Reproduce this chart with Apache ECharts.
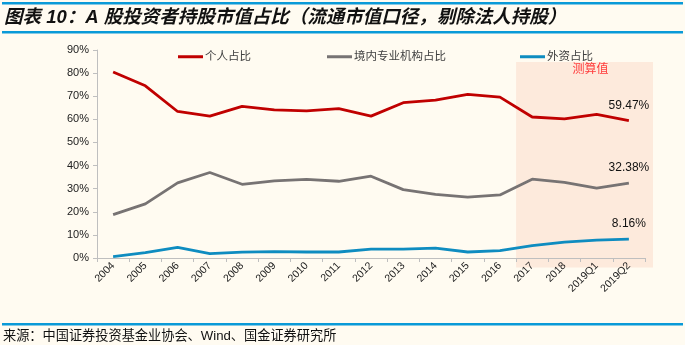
<!DOCTYPE html>
<html>
<head>
<meta charset="utf-8">
<script src="https://cdn.jsdelivr.net/npm/echarts@6/dist/echarts.min.js"></script>
<style>
html,body{margin:0;padding:0;background:#FFFBF1;}
#c{width:685px;height:345px;}
</style>
</head>
<body>
<div id="c"></div>
<script>
const categories = ['2004','2005','2006','2007','2008','2009','2010','2011','2012','2013','2014','2015','2016','2017','2018','2019Q1','2019Q2'];
const individual = [80.5,74.5,63.4,61.4,65.6,64.1,63.7,64.6,61.4,67.2,68.3,70.8,69.6,61.0,60.2,62.1,59.47];
const domestic = [18.8,23.4,32.5,37.0,31.9,33.4,34.0,33.2,35.4,29.6,27.5,26.3,27.3,34.1,32.7,30.2,32.38];
const foreign = [0.6,2.3,4.6,1.9,2.5,2.8,2.6,2.6,3.8,3.8,4.3,2.6,3.2,5.4,6.9,7.7,8.16];
const seriesNames = ['个人占比','境内专业机构占比','外资占比'];
const estimateStart = '2017';
const titleText = '图表 10：A 股投资者持股市值占比（流通市值口径，剔除法人持股）';
const sourceText = '来源：中国证券投资基金业协会、Wind、国金证券研究所';

const colors = ['#C00000','#777373','#0E8CC0'];
const cjk = '"Liberation Sans","Noto Sans CJK SC",sans-serif';

function withLastLabel(arr){
  return arr.map((v,i)=> i===arr.length-1 ? {value:v,label:{show:true}} : v);
}
function mkSeries(name, arr, color){
  return {
    name:name, type:'line', data:withLastLabel(arr), symbol:'circle', symbolSize:0.01, showSymbol:true,
    lineStyle:{width:2.8,color:color}, itemStyle:{color:color}, z:3,
    label:{show:false, position:'top', distance:9, color:'#111', fontSize:12,
      fontFamily:cjk, formatter:p=>p.value.toFixed(2)+'%'}
  };
}
const chart = echarts.init(document.getElementById('c'));
const gridL=97, gridR=40, gridT=50, gridB=87;
function legend(name,left){
  return {data:[name], left:left, top:46, itemWidth:25, itemHeight:3, itemGap:2,
    icon:'rect', textStyle:{fontSize:11.5,color:'#404040',fontFamily:cjk,padding:[0,0,0,-3]}};
}
chart.setOption({
  backgroundColor:'#FFFBF1',
  animation:false,
  grid:{left:gridL,right:gridR,top:gridT,bottom:gridB},
  legend:[legend(seriesNames[0],173),legend(seriesNames[1],322),legend(seriesNames[2],515)],
  xAxis:{type:'category',data:categories,boundaryGap:true,
    axisLine:{lineStyle:{color:'#BFBFBF'}},
    axisTick:{show:true,length:4,lineStyle:{color:'#BFBFBF'}},
    axisLabel:{rotate:45,fontSize:10.5,color:'#222',fontFamily:cjk,margin:6,interval:0}},
  yAxis:{type:'value',min:0,max:90,interval:10,
    axisLine:{show:true,lineStyle:{color:'#BFBFBF'}},
    axisTick:{show:true,length:4,lineStyle:{color:'#BFBFBF'}},
    splitLine:{show:false},
    axisLabel:{formatter:'{value}%',fontSize:11,color:'#222',fontFamily:cjk,margin:8}},
  series:[mkSeries(seriesNames[0],individual,colors[0]),
          mkSeries(seriesNames[1],domestic,colors[1]),
          mkSeries(seriesNames[2],foreign,colors[2])]
});
const p0 = chart.convertToPixel({xAxisIndex:0}, categories[0]);
const p1 = chart.convertToPixel({xAxisIndex:0}, categories[1]);
const band = p1-p0;
const sx = chart.convertToPixel({xAxisIndex:0}, estimateStart) - band/2;
const ex = 685-gridR+8;
const sy = gridT+12, ey = 345-gridB+9.5;
chart.setOption({
  graphic:[
    {type:'rect',shape:{x:sx,y:sy,width:ex-sx,height:ey-sy},style:{fill:'#FDEADC'},z:0,silent:true},
    {type:'text',x:(sx+ex)/2+6,y:sy+8,style:{text:'测算值',fill:'#FF3B3B',fontSize:12,fontFamily:cjk,align:'center',verticalAlign:'middle'},z:1},
    {type:'rect',shape:{x:2,y:2,width:681,height:2.5},style:{fill:'#0A9AD8'},z:1},
    {type:'rect',shape:{x:2,y:31,width:681,height:2.5},style:{fill:'#0A9AD8'},z:1},
    {type:'text',x:4,y:17.5,style:{text:titleText,fill:'#111',fontSize:18.5,fontWeight:'bold',fontStyle:'italic',fontFamily:cjk,verticalAlign:'middle'},z:1},
    {type:'rect',shape:{x:2,y:323,width:681,height:2.5},style:{fill:'#0A9AD8'},z:1},
    {type:'text',x:3,y:336.5,style:{text:sourceText,fill:'#111',fontSize:13.2,fontFamily:cjk,verticalAlign:'middle'},z:1}
  ]
});
</script>
</body>
</html>
